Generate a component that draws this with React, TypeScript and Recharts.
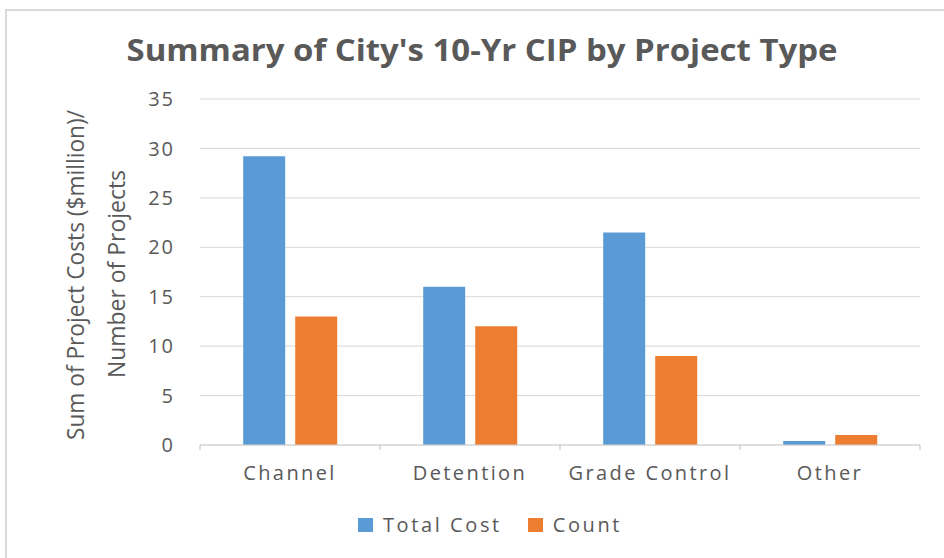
import React from "react";
import { BarChart, Bar, XAxis, YAxis, CartesianGrid, Legend } from "recharts";

const categories = ["Channel", "Detention", "Grade Control", "Other"];
const totalCost = [29.2, 16, 21.5, 0.4];
const count = [13, 12, 9, 1];
const yTicks = [0, 5, 10, 15, 20, 25, 30, 35];

const data = categories.map((c, i) => ({ name: c, total: totalCost[i], count: count[i] }));

const FONT = "'Open Sans', 'DejaVu Sans', sans-serif";
const GRAY = "#595959";
const BLUE = "#5b9bd5";
const ORANGE = "#ed7d31";

const Title = () => (
  <text
    x={482}
    y={61}
    textAnchor="middle"
    fontFamily={FONT}
    fontWeight={700}
    fontSize={30}
    fill={GRAY}
    textLength={711}
    lengthAdjust="spacingAndGlyphs"
  >
    Summary of City's 10-Yr CIP by Project Type
  </text>
);

const YLabel = () => (
  <g>
    <text
      transform="translate(84,275) rotate(-90)"
      textAnchor="middle"
      fontFamily={FONT}
      fontSize={24}
      fill={GRAY}
      textLength={330}
      lengthAdjust="spacingAndGlyphs"
    >
      Sum of Project Costs ($million)/
    </text>
    <text
      transform="translate(125,274) rotate(-90)"
      textAnchor="middle"
      fontFamily={FONT}
      fontSize={24}
      fill={GRAY}
      textLength={208}
      lengthAdjust="spacingAndGlyphs"
    >
      Number of Projects
    </text>
  </g>
);

const XTick = (props: any) => {
  const { x, y, payload, index } = props;
  const half = 90;
  const axisY = y - 21;
  return (
    <g>
      <line x1={x - half} x2={x - half} y1={axisY} y2={axisY + 5} stroke="#bfbfbf" />
      {index === categories.length - 1 && (
        <line x1={x + half} x2={x + half} y1={axisY} y2={axisY + 5} stroke="#bfbfbf" />
      )}
      <text x={x} y={y} dy="0.71em" textAnchor="middle" fontFamily={FONT} fontSize={20} letterSpacing={2.4} fill={GRAY}>
        {payload.value}
      </text>
    </g>
  );
};

const LegendContent = () => (
  <div
    style={{
      display: "flex",
      justifyContent: "center",
      alignItems: "center",
      height: 26,
      lineHeight: "26px",
      fontFamily: FONT,
      fontSize: 20,
      letterSpacing: 2.6,
      color: GRAY,
      paddingLeft: 36,
    }}
  >
    <span style={{ display: "inline-block", width: 15, height: 14, background: BLUE, marginRight: 10 }} />
    <span style={{ marginRight: 26 }}>Total Cost</span>
    <span style={{ display: "inline-block", width: 15, height: 14, background: ORANGE, marginRight: 10 }} />
    <span>Count</span>
  </div>
);

export default function App() {
  return (
    <div style={{ position: "absolute", left: 0, top: 0, width: 944, height: 558, background: "#fff", overflow: "hidden" }}>
      <div
        style={{
          position: "absolute",
          left: 5,
          top: 9,
          width: 1000,
          height: 600,
          borderTop: "2px solid #dadada",
          borderLeft: "2px solid #dadada",
          boxSizing: "border-box",
        }}
      />
      <div style={{ position: "absolute", left: 0, top: 0 }}>
        <BarChart
          width={944}
          height={558}
          data={data}
          margin={{ top: 99, right: 24, bottom: 0, left: 0 }}
          barCategoryGap="24%"
          barGap={10}
        >
          <CartesianGrid vertical={false} stroke="#d9d9d9" />
          <XAxis
            dataKey="name"
            height={87}
            axisLine={{ stroke: "#d0d0d0" }}
            tickLine={false}
            tickSize={0}
            tickMargin={21}
            interval={0}
            tick={<XTick />}
          />
          <YAxis
            width={200}
            domain={[0, 35]}
            ticks={yTicks}
            axisLine={false}
            tickLine={false}
            tickSize={0}
            tickMargin={25}
            tick={{ fontFamily: FONT, fontSize: 20, fill: GRAY, letterSpacing: 2 }}
          />
          <Legend verticalAlign="bottom" content={<LegendContent />} wrapperStyle={{ bottom: 20, left: 0, width: 944 }} />
          <Bar dataKey="total" name="Total Cost" fill={BLUE} isAnimationActive={false} />
          <Bar dataKey="count" name="Count" fill={ORANGE} isAnimationActive={false} />
          <Title />
          <YLabel />
        </BarChart>
      </div>
    </div>
  );
}
